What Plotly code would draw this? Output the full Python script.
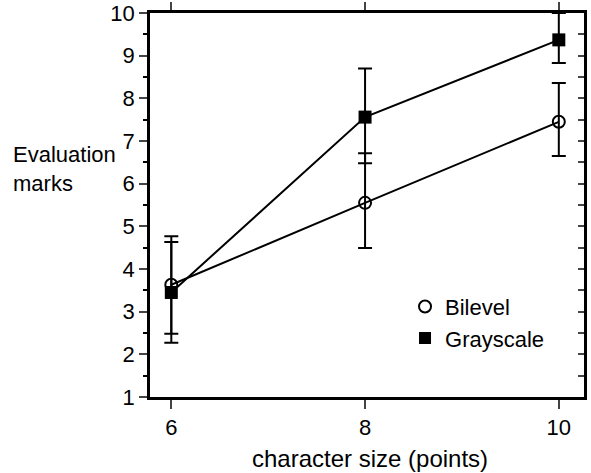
import plotly.graph_objects as go

sizes = [6, 8, 10]
bilevel = [3.63, 5.55, 7.45]
bilevel_plus = [1.14, 1.16, 0.91]
bilevel_minus = [1.15, 1.06, 0.80]
grayscale = [3.45, 7.56, 9.37]
grayscale_plus = [1.18, 1.14, 0.63]
grayscale_minus = [1.18, 1.08, 0.54]
y_ticks = [1, 2, 3, 4, 5, 6, 7, 8, 9, 10]
x_ticks = [6, 8, 10]

FONT = "Liberation Sans"
fig = go.Figure()

fig.add_trace(go.Scatter(
    x=sizes, y=bilevel, mode="lines+markers", showlegend=False,
    line=dict(color="black", width=2),
    marker=dict(symbol="circle-open", size=12, color="black", line=dict(width=2)),
    error_y=dict(type="data", array=bilevel_plus, arrayminus=bilevel_minus,
                 color="black", thickness=2, width=7),
))
fig.add_trace(go.Scatter(
    x=sizes, y=grayscale, mode="lines+markers", showlegend=False,
    line=dict(color="black", width=2),
    marker=dict(symbol="square", size=13, color="black"),
    error_y=dict(type="data", array=grayscale_plus, arrayminus=grayscale_minus,
                 color="black", thickness=2, width=7),
))
# legend entries (markers only)
fig.add_trace(go.Scatter(x=[None], y=[None], mode="markers", name="Bilevel",
                         marker=dict(symbol="circle-open", size=11, color="black", line=dict(width=2))))
fig.add_trace(go.Scatter(x=[None], y=[None], mode="markers", name="Grayscale",
                         marker=dict(symbol="square", size=13, color="black")))
# dummy for secondary axes
fig.add_trace(go.Scatter(x=[None], y=[None], xaxis="x2", yaxis="y2", showlegend=False))

fig.update_layout(
    width=591, height=473,
    paper_bgcolor="white", plot_bgcolor="white",
    margin=dict(l=150, r=7, t=13, b=76, autoexpand=False),
    font=dict(family=FONT, color="black", size=22),
    xaxis=dict(range=[5.78, 10.26], tickvals=x_ticks, ticks="outside", ticklen=9,
               tickwidth=2, showline=True, linewidth=2.5, linecolor="black",
               showgrid=False, zeroline=False, tickfont=dict(size=22), automargin=False),
    yaxis=dict(range=[1, 10], tickvals=y_ticks, ticks="outside", ticklen=8,
               tickwidth=2, showline=True, linewidth=2.5, linecolor="black",
               showgrid=False, zeroline=False, tickfont=dict(size=22), automargin=False,
               ticklabeloverflow="allow",
               minor=dict(dtick=0.5, ticks="outside", ticklen=4, tickwidth=1.5,
                          tickcolor="black", showgrid=False)),
    xaxis2=dict(overlaying="x", side="top", range=[5.78, 10.26], tickvals=x_ticks,
                ticks="outside", ticklen=8, tickwidth=2, showline=True, linewidth=2.5,
                linecolor="black", showticklabels=False, showgrid=False, zeroline=False,
                automargin=False),
    yaxis2=dict(overlaying="y", side="right", range=[1, 10], dtick=0.5,
                ticks="inside", ticklen=6, tickwidth=2, showline=True, linewidth=2.5,
                linecolor="black", showticklabels=False, showgrid=False, zeroline=False,
                automargin=False),
    legend=dict(x=0.5876, y=0.29, xanchor="left", yanchor="top",
                bgcolor="rgba(0,0,0,0)", font=dict(size=22),
                itemsizing="constant"),
    showlegend=True,
)
fig.add_annotation(text="Evaluation<br>marks", xref="paper", yref="paper",
                   x=-0.32, y=0.594, xanchor="left", yanchor="middle", align="left",
                   showarrow=False, font=dict(size=22))
fig.add_annotation(text="character size (points)", xref="paper", yref="paper",
                   x=0.507, y=-0.161, xanchor="center", yanchor="middle",
                   showarrow=False, font=dict(size=24))

fig.write_html("out.html", config={"displayModeBar": False},
               post_script="document.body.style.margin='0';")
